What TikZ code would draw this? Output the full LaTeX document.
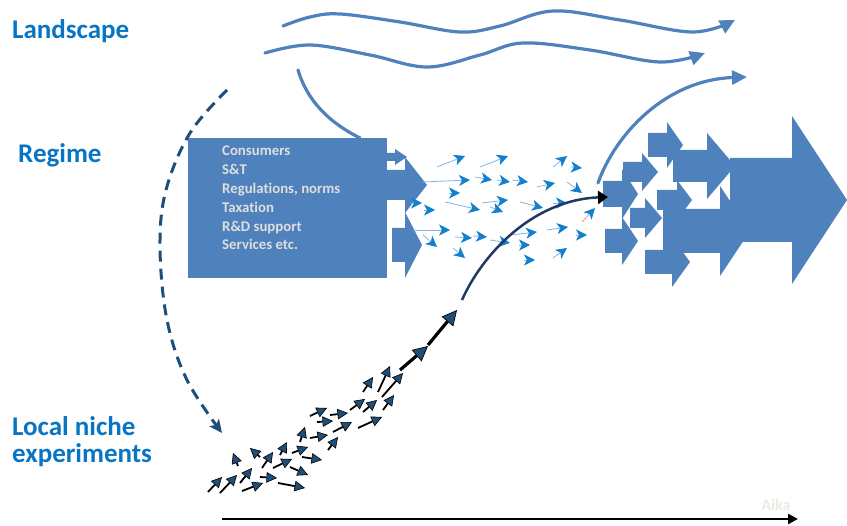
\documentclass[tikz,border=0pt]{standalone}
\usepackage{fontspec}
\setmainfont{Carlito}[Ligatures={TeX,NoCommon}]
\usetikzlibrary{arrows.meta}

\definecolor{labelblue}{RGB}{8,116,196}
\definecolor{regime}{RGB}{79,129,189}
\definecolor{regimetext}{RGB}{222,222,222}
\definecolor{flow}{RGB}{18,128,205}
\definecolor{flowline}{RGB}{130,180,228}
\definecolor{niche}{RGB}{31,78,121}
\definecolor{navy}{RGB}{31,56,100}
\definecolor{aika}{RGB}{236,234,224}
\definecolor{pinkline}{RGB}{225,150,150}

% block arrow: left x, centre y, body half height, head x, head half height, tip x
\newcommand\blockarrow[6]{%
  \fill[regime] ({#1},{#2-#3}) -- ({#4},{#2-#3}) -- ({#4},{#2-#5}) -- ({#6},{#2})
    -- ({#4},{#2+#5}) -- ({#4},{#2+#3}) -- ({#1},{#2+#3}) -- cycle;}

\tikzset{
  levellabel/.style={font=\fontsize{27}{29}\selectfont\bfseries, text=labelblue,
    anchor=base west, inner sep=0},
  landline/.style={draw=regime, line width=3.2, line cap=round},
  landarrow/.style={landline, -{Triangle[length=15,width=14]}},
  flowarrow/.style={draw=flowline, line width=0.8, -{Stealth[length=11,width=11,inset=3,color=flow]}},
  nichearrow/.style={draw=black, line width=1.8, -{Triangle[length=10.5,width=10.5,fill=niche,line width=0.6]}},
  bignichearrow/.style={draw=black, line width=3.2, -{Triangle[length=15,width=15,fill=niche,line width=0.7]}},
  dasharc/.style={draw=niche, line width=3, dash pattern=on 11 off 7, -{Stealth[length=13,width=12,inset=3]}},
}

\begin{document}
\begin{tikzpicture}[x=1pt,y=-1pt]
\useasboundingbox (0,0) rectangle (847,526);

% level labels
\node[levellabel] (landscape) at (12,39) {Landscape};
\node[levellabel] (regimelbl) at (18,163) {Regime};
\node[levellabel] (nichelbl) at (12,436) {Local niche};
\node[levellabel] (nichelbl2) at (12,463) {experiments};

% landscape pressures
\draw[landarrow] plot[smooth, tension=0.6] coordinates
  {(283,26) (310,17) (340,14) (400,22) (460,32) (500,26) (553,11) (620,20) (693,32) (735,20)};
\draw[landarrow] plot[smooth, tension=0.6] coordinates
  {(265,53) (310,45) (370,55) (427,67) (480,55) (523,43) (590,50) (660,62) (705,53)};
\draw[landline] (298,70) .. controls (307,100) and (328,122) .. (360,138);
\draw[landarrow] (598,183) .. controls (615,135) and (665,80) .. (747,77);

% regime box
\node[fill=regime, minimum width=199, minimum height=140, anchor=north west, inner sep=0] (regbox) at (188,138) {};
\node[anchor=north west, inner sep=0, align=left, text=regimetext,
      font=\fontsize{14.8}{18.8}\selectfont\bfseries] (regtext) at (222,146)
  {Consumers\\S\&T\\Regulations, norms\\Taxation\\R\&D support\\Services etc.};

% arrows leaving the regime box
\blockarrow{387}{157}{4}{395}{8}{407}
\blockarrow{387}{185}{15}{405}{28}{427}
\blockarrow{392}{245}{17}{405}{33}{422}

% scattered regime flows
\foreach \a/\b/\c/\d in {
  437/167/465/156, 480/167/508/156, 422/182/470/180, 475/177/492/180,
  497/180/510/182, 512/180/528/182, 537/187/555/183, 553/167/567/156,
  571/167/582/168, 567/182/582/193, 449/193/460/193, 411/203/422/203,
  424/210/435/210, 445/202/480/210, 482/203/508/200, 490/207/503/212,
  520/202/543/208, 553/203/567/203, 413/230/450/230, 423/235/437/247,
  455/237/472/238, 473/236/487/237, 490/240/510/243, 510/235/537/232,
  547/230/568/227, 519/245/530/245, 453/248/465/258, 524/260/535/260,
  553/258/567/248, 576/235/587/235}
  \draw[flowarrow] (\a,\b) -- (\c,\d);
\draw[draw=pinkline, line width=0.8, -{Stealth[length=11,width=11,inset=3,color=flow]}] (582,222) -- (595,208);

% emerging regime
\blockarrow{730}{200}{42}{792}{84}{847}
\blockarrow{673}{166}{16}{707}{33}{735}
\blockarrow{663}{231}{22}{720}{45}{750}
\blockarrow{648}{145}{12}{667}{23}{683}
\blockarrow{623}{172}{10}{642}{19}{658}
\blockarrow{603}{194}{13}{622}{25}{638}
\blockarrow{657}{200}{10}{677}{20}{692}
\blockarrow{630}{218}{10}{645}{20}{662}
\blockarrow{605}{241}{12}{622}{24}{638}
\blockarrow{645}{262}{12}{672}{25}{690}

% niche experiments
\foreach \a/\b/\c/\d in {
  208/492/222/477, 220/493/237/475, 240/483/252/468, 242/491/263/483,
  260/477/277/478, 278/483/305/488, 238/466/233/453, 260/457/250/448,
  262/468/273/452, 273/468/292/459, 290/467/308/475, 280/455/287/442,
  292/453/308/447, 302/457/322/460, 300/442/305/427, 310/438/328/435,
  328/450/338/437, 333/432/352/422, 310/416/327/408, 317/422/333/421,
  330/415/348/413, 358/428/382/417, 350/410/365/399, 363/412/377/400,
  383/410/394/395, 363/392/373/377, 378/392/390/366, 382/397/403/373}
  \draw[nichearrow] (\a,\b) -- (\c,\d);
\draw[bignichearrow] (400,370) -- (428,346);
\draw[bignichearrow] (428,345) -- (457,310);

% niche breaking into the regime
\draw[navy, line width=2.5, -{Triangle[length=10,width=13,color=black]}]
  (462,300) .. controls (482,255) and (532,200) .. (608,197);

% landscape reaching down to the niches
\draw[dasharc] plot[smooth, tension=0.6] coordinates
  {(227,90) (190,133) (166,190) (160,247) (167,320) (187,380) (222,433)};

% time axis
\coordinate (axstart) at (222,519);
\coordinate (axend) at (798,519);
\draw[line width=2.5, -{Triangle[length=10,width=10]}] (axstart) -- (axend);
\node[font=\fontsize{16}{18}\selectfont\bfseries, text=aika] (aika) at (776,505) {Aika};
\end{tikzpicture}
\end{document}
